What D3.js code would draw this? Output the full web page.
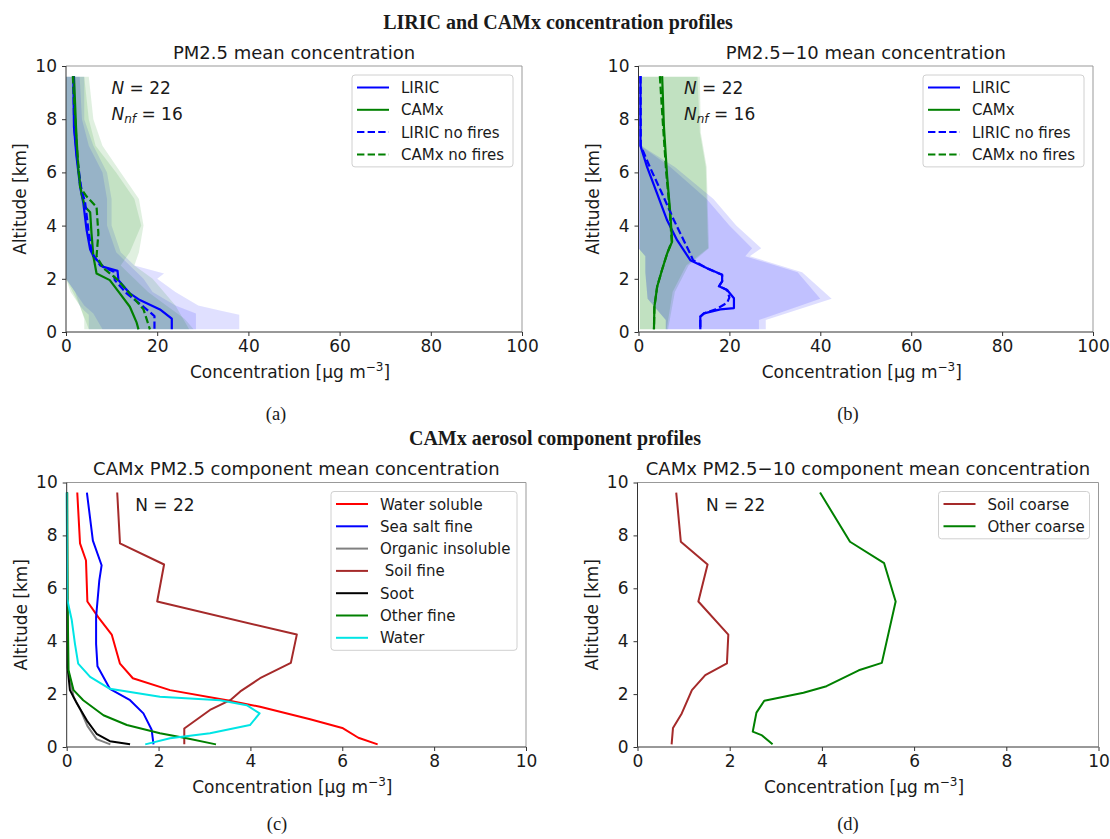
<!DOCTYPE html>
<html><head><meta charset="utf-8">
<script src="https://cdn.jsdelivr.net/npm/d3@7"></script>
<style>
body{margin:0;background:#fff;}
svg text{font-family:"DejaVu Sans",sans-serif;fill:#1a1a1a;white-space:pre;}
svg text.serif{font-family:"Liberation Serif","Times New Roman",serif;}
</style></head><body>
<svg id="chart" width="1110" height="839"></svg>
<script>
// ---------- tick labels ----------
const conc100Ticks = [0, 20, 40, 60, 80, 100];
const conc10Ticks = [0, 2, 4, 6, 8, 10];
const altTicks = [0, 2, 4, 6, 8, 10];

// ---------- (a) PM2.5 mean profiles: [concentration, altitude km] ----------
const pm25Liric = [[1.6,9.62],[1.75,7.7],[2.3,6.6],[3.1,5.45],[3.8,4.85],[4.5,3.85],[5.3,3.1],[6.0,2.85],[8.2,2.45],[11.3,2.3],[11.5,1.95],[14.0,1.45],[16.2,1.2],[20.6,0.85],[23.2,0.5],[23.2,0.1]];
const pm25LiricNF = [[1.6,9.62],[1.8,7.7],[2.4,6.6],[3.3,5.45],[4.2,4.85],[4.9,3.85],[5.6,3.0],[7.5,2.5],[10.4,2.27],[10.7,1.95],[13.3,1.45],[17.0,0.95],[19.4,0.6],[19.4,0.1]];
const pm25Camx = [[1.75,9.62],[2.2,7.7],[2.7,6.1],[3.4,5.2],[4.2,4.7],[5.3,4.5],[5.6,3.7],[6.0,2.85],[6.7,2.2],[9.6,1.95],[11.8,1.45],[14.0,0.95],[15.5,0.35],[15.9,0.1]];
const pm25CamxNF = [[1.5,9.62],[2.3,7.1],[3.1,5.45],[4.5,5.1],[6.7,4.7],[7.1,3.7],[6.7,2.85],[8.2,2.4],[11.1,2.0],[14.0,1.45],[17.0,0.85],[18.4,0.1]];
// spread bands: [altitude, low, high]
const pm25LiricBand = [[9.6,0,4],[8,0,4],[7,0,6],[6,0,9],[5,0,10],[4,0,10],[3,0,12],[2.5,0,15],[2.2,0,21.5],[2.0,0,20],[1.5,2,24],[1.0,3,29],[0.8,4,34],[0.65,5,38],[0.1,5,38]];
const pm25LiricNFBand = [[9.6,0,3],[8,0,3.5],[7,0,5],[6,0,8],[5,0,9],[4,0,9],[3,0,11],[2.5,0,14],[2,0,17],[1.5,2,19],[1,4,24],[0.7,6,28.5],[0.1,8,28.5]];
const pm25CamxBand = [[9.6,0,4],[8,0,5],[7,0,6.5],[6,0,11],[5,0,15],[4,0,16.5],[3,0,14],[2.5,0,12],[2,0,15],[1.5,1,18],[1,3,22],[0.5,4,26],[0.1,4,28]];
const pm25CamxNFBand = [[9.6,0,5],[8,0,6],[7,0,8],[6,0,12],[5,0,16],[4,0,17],[3,0,16],[2.5,0,15],[2,0,19],[1,3,24],[0.1,5,27]];

// ---------- (b) PM2.5-10 mean profiles ----------
const pm10Liric = [[0.44,9.62],[0.44,7.0],[1.9,6.2],[4.1,5.2],[6.3,4.2],[8.5,3.45],[11.4,2.7],[15.1,2.4],[18.4,2.15],[18.4,1.9],[17.7,1.72],[19.5,1.58],[21,1.27],[21,0.9],[18,0.85],[14.4,0.7],[13.6,0.58],[13.6,0.1]];
const pm10LiricNF = [[0.44,9.62],[0.5,7.0],[2.5,6.2],[5.2,5.2],[7.8,4.2],[9.8,3.5],[11.5,2.9],[12,2.7],[15,2.4],[18.4,2.15],[18.4,1.9],[17.7,1.72],[19.5,1.58],[20,1.3],[19.5,1.1],[17,0.85],[14.4,0.7],[13.6,0.58],[13.6,0.1]];
const pm10Camx = [[5.2,9.62],[5.6,7.7],[6.3,5.85],[7.0,4.45],[7.4,3.4],[6.3,2.95],[5.2,2.35],[4.1,1.7],[3.5,0.95],[3.4,0.1]];
const pm10CamxNF = [[4.7,9.62],[5.3,8],[6.1,6],[6.9,4.5],[7.3,3.4],[6.3,2.95],[5.2,2.35],[4.1,1.7],[3.5,0.95],[3.4,0.1]];
const pm10LiricBand = [[9.6,0,0.3],[7,0,0.5],[6.2,0,7],[5,0,15],[4,0,20],[3.15,0,25],[2.85,1.5,23.5],[2.25,1.5,35],[1.25,2,40],[0.45,6,26.5],[0.1,6,26.5]];
const pm10LiricNFBand = [[9.6,0,0.3],[7,0,0.6],[6.2,0,8],[5,0,16.5],[4,0,21.5],[3.15,0,27],[2.85,1.5,24.5],[2.25,1.5,36],[1.25,2,42.5],[0.45,6,28],[0.1,6,28]];
const pm10CamxBand = [[9.6,0.3,13.5],[7.5,0.3,13.7],[6.2,0.3,15],[3.15,0.3,15.5],[2.5,0.3,11],[1.5,0.3,8],[0.1,0.3,6.5]];
const pm10CamxNFBand = [[9.6,0.3,13],[7.5,0.3,13.5],[6.2,0.3,14.8],[3.15,0.3,15.3],[2.5,0.3,10.5],[1.5,0.3,7.5],[0.1,0.3,6.2]];

// ---------- (c) CAMx PM2.5 components ----------
const waterSoluble = [[0.23,9.62],[0.29,7.7],[0.42,7.05],[0.45,5.5],[0.69,4.9],[0.98,4.25],[1.16,3.15],[1.44,2.6],[2.25,2.15],[3.49,1.77],[4.21,1.52],[5.3,1.05],[6.0,0.72],[6.35,0.35],[6.77,0.1]];
const seaSaltFine = [[0.44,9.62],[0.57,7.8],[0.76,6.87],[0.71,6.3],[0.64,4.92],[0.64,3.9],[0.67,3.05],[0.94,2.2],[1.38,1.77],[1.67,1.27],[1.85,0.65],[1.89,0.1]];
const organicInsoluble = [[0.01,9.62],[0.01,5.5],[0.02,3.0],[0.08,2.5],[0.15,1.9],[0.3,1.4],[0.45,0.8],[0.65,0.3],[0.95,0.1]];
const soilFine = [[1.1,9.62],[1.16,7.7],[2.12,6.9],[1.97,5.5],[5.01,4.25],[4.88,3.18],[4.21,2.6],[3.78,2.1],[3.56,1.77],[3.12,1.4],[2.56,0.7],[2.56,0.1]];
const soot = [[0.005,9.62],[0.01,5.5],[0.02,3.0],[0.07,2.15],[0.22,1.65],[0.44,1.0],[0.65,0.5],[0.94,0.22],[1.38,0.1]];
const otherFine = [[0.01,9.62],[0.02,5.5],[0.04,2.9],[0.15,2.15],[0.36,1.77],[0.8,1.2],[1.31,0.83],[2.03,0.52],[2.61,0.33],[3.25,0.1]];
const water = [[0.0,9.62],[0.01,5.6],[0.04,5.35],[0.11,4.8],[0.18,3.9],[0.25,3.15],[0.51,2.65],[0.94,2.2],[2.03,1.9],[3.34,1.77],[3.92,1.58],[4.2,1.27],[3.99,0.83],[3.12,0.52],[2.25,0.33],[1.71,0.1]];

// ---------- (d) CAMx PM2.5-10 components ----------
const soilCoarse = [[0.84,9.62],[0.94,7.76],[1.52,6.9],[1.32,5.5],[1.97,4.25],[1.94,3.16],[1.47,2.72],[1.18,2.15],[0.96,1.27],[0.77,0.72],[0.74,0.1]];
const otherCoarse = [[3.96,9.62],[4.61,7.76],[5.35,6.95],[5.6,5.5],[5.3,3.18],[4.8,2.9],[4.1,2.3],[3.6,2.05],[2.75,1.75],[2.58,1.3],[2.53,0.85],[2.5,0.58],[2.69,0.45],[2.93,0.1]];

// ---------- drawing ----------
const svg = d3.select('#chart');
svg.append('rect').attr('width',1110).attr('height',839).attr('fill','#fff');

const BLUE = '#0000ff', GREEN = '#008000';

function makePanel(box, xMax, xTicks, title) {
  const x = d3.scaleLinear().domain([0, xMax]).range([box.l, box.r]);
  const y = d3.scaleLinear().domain([0, 10]).range([box.b, box.t]);
  const g = svg.append('g');
  const bands = g.append('g');
  const lines = g.append('g');
  const axes = g.append('g');
  const front = g.append('g');
  const xa = axes.append('g').attr('transform', `translate(0,${box.b})`)
    .call(d3.axisBottom(x).tickValues(xTicks).tickSize(4).tickPadding(4).tickSizeOuter(0));
  const ya = axes.append('g').attr('transform', `translate(${box.l},0)`)
    .call(d3.axisLeft(y).tickValues(altTicks).tickSize(4).tickPadding(5).tickSizeOuter(0));
  [xa, ya].forEach(a => {
    a.select('.domain').remove();
    a.selectAll('text').style('font-size', '17px').style('font-family', '"DejaVu Sans",sans-serif').attr('fill', '#1a1a1a');
    a.selectAll('line').attr('stroke', '#333');
  });
  axes.append('line').attr('x1', box.l).attr('x2', box.r).attr('y1', box.t).attr('y2', box.t).attr('stroke', '#999');
  axes.append('line').attr('x1', box.r).attr('x2', box.r).attr('y1', box.t).attr('y2', box.b).attr('stroke', '#999');
  axes.append('line').attr('x1', box.l).attr('x2', box.r).attr('y1', box.b).attr('y2', box.b).attr('stroke', '#333');
  axes.append('line').attr('x1', box.l).attr('x2', box.l).attr('y1', box.t).attr('y2', box.b).attr('stroke', '#333');
  axes.append('text').attr('x', (box.l + box.r) / 2).attr('y', box.t - 7.5)
    .attr('text-anchor', 'middle').style('font-size', '18px').text(title);
  const xl = axes.append('text').attr('x', (box.l + box.r) / 2 - 4).attr('y', box.b + 46)
    .attr('text-anchor', 'middle').style('font-size', '17px');
  xl.append('tspan').text('Concentration [µg m');
  xl.append('tspan').attr('dy', -7).style('font-size', '12px').text('−3');
  xl.append('tspan').attr('dy', 7).text(']');
  axes.append('text').attr('transform', `translate(${box.l - 40},${(box.t + box.b) / 2}) rotate(-90)`)
    .attr('text-anchor', 'middle').style('font-size', '17px').text('Altitude [km]');
  return {x, y, bands, lines, front, box};
}

function band(p, data, color, op) {
  const area = d3.area().y(d => p.y(d[0])).x0(d => p.x(d[1])).x1(d => p.x(d[2]));
  p.bands.append('path').datum(data).attr('d', area).attr('fill', color).attr('fill-opacity', op).attr('stroke', 'none');
}
function line(p, data, color, dashed, w) {
  const ln = d3.line().x(d => p.x(d[0])).y(d => p.y(d[1]));
  p.lines.append('path').datum(data).attr('d', ln).attr('fill', 'none')
    .attr('stroke', color).attr('stroke-width', w || 2).attr('stroke-linejoin', 'round')
    .attr('stroke-dasharray', dashed ? '7.4,3.2' : null);
}
function legend(p, width, items) {
  const left = p.box.r - 9 - width, top = p.box.t + 9;
  const h = 25 + (items.length - 1) * 22.3;
  const lg = p.front.append('g');
  lg.append('rect').attr('x', left).attr('y', top).attr('width', width).attr('height', h)
    .attr('rx', 3).attr('fill', '#fff').attr('fill-opacity', 0.85).attr('stroke', '#d0d0d0');
  items.forEach((it, i) => {
    const yy = top + 12.5 + i * 22.3;
    lg.append('line').attr('x1', left + 5).attr('x2', left + 37).attr('y1', yy).attr('y2', yy)
      .attr('stroke', it.color).attr('stroke-width', 2).attr('stroke-dasharray', it.dashed ? '7.4,3.2' : null);
    lg.append('text').attr('x', left + 49).attr('y', yy + 5.5).style('font-size', '15px').text(it.label);
  });
}
function nLabels(p, italic) {
  const x0 = p.box.l + (italic ? 45.5 : 68.5);
  const t1 = p.front.append('text').attr('x', x0).attr('y', p.box.t + 28).style('font-size', '17px');
  t1.append('tspan').style('font-style', italic ? 'italic' : 'normal').text('N');
  t1.append('tspan').text(' = 22');
  if (italic) {
    const t2 = p.front.append('text').attr('x', x0).attr('y', p.box.t + 54).style('font-size', '17px');
    t2.append('tspan').style('font-style', 'italic').text('N');
    t2.append('tspan').style('font-style', 'italic').style('font-size', '12px').attr('dy', 3).text('nf');
    t2.append('tspan').attr('dy', -3).text(' = 16');
  }
}

const boxA = {l: 66, r: 522, t: 66, b: 332};
const boxB = {l: 638.5, r: 1093, t: 66, b: 332};
const boxC = {l: 66.7, r: 526, t: 482.5, b: 747};
const boxD = {l: 637.5, r: 1098.5, t: 482.5, b: 747};

const legAB = [
  {label: 'LIRIC', color: BLUE}, {label: 'CAMx', color: GREEN},
  {label: 'LIRIC no fires', color: BLUE, dashed: true}, {label: 'CAMx no fires', color: GREEN, dashed: true}
];

// (a)
const pA = makePanel(boxA, 100, conc100Ticks, 'PM2.5 mean concentration');
band(pA, pm25LiricBand, BLUE, 0.12);
band(pA, pm25CamxBand, GREEN, 0.12);
band(pA, pm25LiricNFBand, BLUE, 0.12);
band(pA, pm25CamxNFBand, GREEN, 0.12);
line(pA, pm25Liric, BLUE, false, 2.2);
line(pA, pm25Camx, GREEN, false, 2.2);
line(pA, pm25LiricNF, BLUE, true, 2.2);
line(pA, pm25CamxNF, GREEN, true, 2.2);
legend(pA, 161, legAB);
nLabels(pA, true);

// (b)
const pB = makePanel(boxB, 100, conc100Ticks, 'PM2.5−10 mean concentration');
band(pB, pm10LiricBand, BLUE, 0.13);
band(pB, pm10CamxBand, GREEN, 0.13);
band(pB, pm10LiricNFBand, BLUE, 0.13);
band(pB, pm10CamxNFBand, GREEN, 0.13);
line(pB, pm10Liric, BLUE, false, 2.2);
line(pB, pm10Camx, GREEN, false, 2.2);
line(pB, pm10LiricNF, BLUE, true, 2.2);
line(pB, pm10CamxNF, GREEN, true, 2.2);
legend(pB, 161, legAB);
nLabels(pB, true);

// (c)
const compC = [
  {label: 'Water soluble', color: '#ff0000', data: waterSoluble},
  {label: 'Sea salt fine', color: '#0000ff', data: seaSaltFine},
  {label: 'Organic insoluble', color: '#808080', data: organicInsoluble},
  {label: ' Soil fine', color: '#a52a2a', data: soilFine},
  {label: 'Soot', color: '#000000', data: soot},
  {label: 'Other fine', color: '#008000', data: otherFine},
  {label: 'Water', color: '#00e5e5', data: water}
];
const pC = makePanel(boxC, 10, conc10Ticks, 'CAMx PM2.5 component mean concentration');
compC.forEach(c => line(pC, c.data, c.color, false, 2));
legend(pC, 186, compC);
nLabels(pC, false);

// (d)
const compD = [
  {label: 'Soil coarse', color: '#a52a2a', data: soilCoarse},
  {label: 'Other coarse', color: '#008000', data: otherCoarse}
];
const pD = makePanel(boxD, 10, conc10Ticks, 'CAMx PM2.5−10 component mean concentration');
compD.forEach(c => line(pD, c.data, c.color, false, 2));
legend(pD, 151, compD);
nLabels(pD, false);

// figure titles and panel letters
function serif(x, y, txt, size, bold) {
  svg.append('text').attr('class', 'serif').attr('x', x).attr('y', y).attr('text-anchor', 'middle')
    .style('font-size', size + 'px').style('font-weight', bold ? 'bold' : 'normal').text(txt);
}
serif(558, 28.5, 'LIRIC and CAMx concentration profiles', 20, true);
serif(555, 445, 'CAMx aerosol component profiles', 20, true);
serif(276, 420, '(a)', 18.5, false);
serif(848, 420, '(b)', 18.5, false);
serif(277, 830, '(c)', 18.5, false);
serif(848, 830, '(d)', 18.5, false);
</script>
</body></html>
